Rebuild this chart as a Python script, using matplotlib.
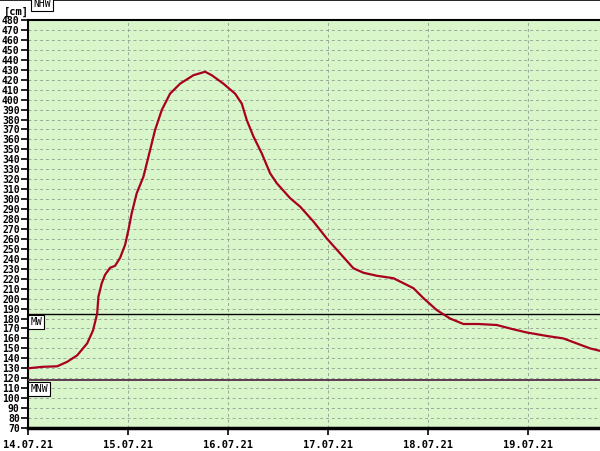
import matplotlib
matplotlib.use("Agg")
import matplotlib.pyplot as plt

# water level, hours since 14.07.21 00:00 -> cm
hours = [0, 3.6, 7.0, 9.4, 11.8, 14.2, 15.6, 16.6, 16.9, 17.7, 18.5, 19.7, 20.9,
         22.1, 23.3, 24.1, 24.9, 26.1, 27.7, 28.9, 30.5, 32.1, 34.1, 36.5, 39.7,
         42.5, 44.1, 46.9, 49.7, 51.3, 52.5, 54.1, 56.1, 58.1, 59.7, 62.9, 65.3,
         68.5, 71.7, 74.9, 78.1, 80.5, 83.7, 87.7, 90.1, 92.5, 94.9, 98.1, 101.3,
         104.5, 108.1, 112.5, 115.7, 119.7, 124.5, 128.5, 131.7, 134.9, 137.3]
level = [130, 131.5, 132, 136.5, 143, 155, 168, 185, 202, 215.5, 224, 231, 233,
         241, 254, 269, 286, 306, 322.5, 342.5, 369.5, 389.5, 406, 416, 424.5,
         428, 424.5, 416, 406, 396, 379.5, 363, 346, 326, 316, 301, 292.5,
         277.5, 260.5, 245.5, 230.5, 226, 223, 220.5, 215.5, 210.5, 200.5, 188.5, 180,
         174.5, 174.5, 173.5, 170, 166, 162.5, 160, 155, 150, 147.5]

day_labels = ["14.07.21", "15.07.21", "16.07.21", "17.07.21", "18.07.21", "19.07.21"]
MW = 185
MNW = 118

mono = "DejaVu Sans Mono"

fig = plt.figure(figsize=(6, 4.51), dpi=100)
ax = fig.add_axes([28/600, 1-428/451, 572/600, 408/451])
ax.set_facecolor("#d8f6c9")

x = [h / 24 for h in hours]
ax.plot(x, level, color="#a8001e", lw=1.6, zorder=5)

ax.axhline(MW, color="black", lw=1.0, zorder=4)
ax.axhline(MNW, color="#5e3a50", lw=1.4, zorder=4)
box = dict(boxstyle="square,pad=0.2", fc="white", ec="black", lw=0.8)
ax.text(0.004, MW - 3.5, "MW", transform=ax.get_yaxis_transform(), family=mono,
        fontsize=7, va="top", ha="left", zorder=6, bbox=box)
ax.text(0.004, MNW - 3.5, "MNW", transform=ax.get_yaxis_transform(), family=mono,
        fontsize=7, va="top", ha="left", zorder=6, bbox=box)

ax.set_xlim(0, 5.72)
ax.set_ylim(70, 480)
ax.set_yticks(range(70, 481, 10))
ax.set_xticks(range(len(day_labels)))
ax.set_xticklabels(day_labels)
ax.tick_params(axis="y", length=5, width=1.2, pad=1, labelsize=7)
ax.tick_params(axis="x", length=5, width=1.2, pad=4, labelsize=7.5)
for lab in ax.get_xticklabels() + ax.get_yticklabels():
    lab.set_family(mono)
    lab.set_weight("bold")

ax.grid(True, color="#9aa89a", ls=(0, (3, 3)), lw=0.7)
ax.spines["right"].set_visible(False)
ax.spines["left"].set_linewidth(1.5)
ax.spines["bottom"].set_linewidth(2.5)
ax.spines["top"].set_linewidth(1.5)

# header: unit and NHW marker
fig.text(4/600, 1-17/451, "[cm]", family=mono, fontsize=7.5, weight="bold",
         ha="left", va="bottom")
fig.text(33/600, 1-9/451, "NHW", family=mono, fontsize=7, ha="left", va="bottom",
         bbox=box)
fig.add_artist(plt.Line2D([0, 1], [0.999, 0.999], color="black", lw=1.2))

fig.savefig("out.png", dpi=100)
